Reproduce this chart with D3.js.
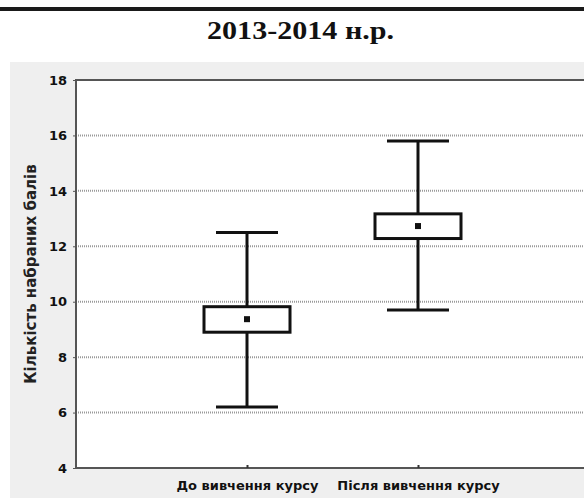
<!DOCTYPE html>
<html>
<head>
<meta charset="utf-8">
<script src="https://cdn.jsdelivr.net/npm/d3@7"></script>
<style>
  body { margin: 0; background: #efefef; overflow: hidden; }
  svg { display: block; }
</style>
</head>
<body>
<script>
// data
const categories = ["До вивчення курсу", "Після вивчення курсу"];
const whiskerLow = [6.2, 9.7];
const boxLow = [8.9, 12.28];
const means = [9.37, 12.73];
const boxHigh = [9.82, 13.17];
const whiskerHigh = [12.5, 15.8];
const yTicks = [4, 6, 8, 10, 12, 14, 16, 18];

const W = 584, H = 498;
const margin = { left: 76, top: 80 };
const plotBottom = 468;
const sans = "DejaVu Sans, Verdana, sans-serif";

const svg = d3.select("body").append("svg")
  .attr("width", W)
  .attr("height", H);

// white page background with top rule
svg.append("rect").attr("width", W).attr("height", H).attr("fill", "#fff");
svg.append("rect").attr("x", 0).attr("y", 7).attr("width", W).attr("height", 4).attr("fill", "#1a1a1a");

// title
svg.append("text")
  .attr("x", 207).attr("y", 39)
  .attr("textLength", 187)
  .attr("lengthAdjust", "spacingAndGlyphs")
  .attr("font-family", "Liberation Serif, serif")
  .attr("font-weight", "bold")
  .attr("font-size", "26px")
  .attr("fill", "#111")
  .text("2013-2014 н.р.");

// grey panel
svg.append("rect").attr("x", 10).attr("y", 62).attr("width", W).attr("height", H - 62).attr("fill", "#efefef");

// scales
const xScale = d3.scaleLinear().domain([0, 3]).range([margin.left, margin.left + 3 * 171]);
const yScale = d3.scaleLinear().domain([4, 18]).range([plotBottom, margin.top]);
const x0 = xScale(0), x1 = W + 10;

// plot area
svg.append("rect")
  .attr("x", x0).attr("y", yScale(18))
  .attr("width", x1 - x0).attr("height", yScale(4) - yScale(18))
  .attr("fill", "#fff");

// grid
svg.append("g").selectAll("line")
  .data(yTicks.filter(d => d > 4 && d < 18))
  .join("line")
  .attr("x1", x0).attr("x2", x1)
  .attr("y1", d => yScale(d)).attr("y2", d => yScale(d))
  .attr("stroke", "#9a9a9a")
  .attr("stroke-width", 2)
  .attr("stroke-dasharray", "1,1");

// frame (top, bottom, left)
const frame = svg.append("g").attr("stroke", "#555").attr("stroke-width", 2);
frame.append("line").attr("x1", x0).attr("x2", x1).attr("y1", yScale(18)).attr("y2", yScale(18));
frame.append("line").attr("x1", x0).attr("x2", x1).attr("y1", yScale(4)).attr("y2", yScale(4));
frame.append("line").attr("x1", x0).attr("x2", x0).attr("y1", yScale(18) - 1).attr("y2", yScale(4) + 1);

// y axis
const yAxis = d3.axisLeft(yScale).tickValues(yTicks).tickSize(3).tickPadding(6);
const gY = svg.append("g").attr("transform", `translate(${x0},0)`).call(yAxis);
gY.select(".domain").remove();
gY.selectAll("line").attr("stroke", "#555");
gY.selectAll("text")
  .attr("font-family", sans)
  .attr("font-weight", "bold")
  .attr("font-size", "13px")
  .attr("fill", "#111");

// x axis
const xAxis = d3.axisBottom(xScale).tickValues([1, 2]).tickFormat(d => categories[d - 1]).tickSize(-3).tickPadding(13);
const gX = svg.append("g").attr("transform", `translate(0,${plotBottom})`).call(xAxis);
gX.select(".domain").remove();
gX.selectAll("line").attr("stroke", "#333").attr("stroke-width", 2);
gX.selectAll("text")
  .attr("font-family", sans)
  .attr("font-weight", "bold")
  .attr("font-size", "13px")
  .attr("fill", "#111");

// y label
svg.append("text")
  .attr("transform", `translate(36,${(yScale(4) + yScale(18)) / 2}) rotate(-90)`)
  .attr("text-anchor", "middle")
  .attr("font-family", sans)
  .attr("font-weight", "bold")
  .attr("font-size", "15px")
  .attr("fill", "#222")
  .text("Кількість набраних балів");

// boxes
const boxW = 86, capW = 62;
const g = svg.append("g").attr("stroke", "#111").attr("stroke-width", 3).attr("fill", "none");
categories.forEach((c, i) => {
  const cx = xScale(i + 1);
  g.append("line").attr("x1", cx).attr("x2", cx).attr("y1", yScale(whiskerHigh[i])).attr("y2", yScale(whiskerLow[i]));
  g.append("line").attr("x1", cx - capW / 2).attr("x2", cx + capW / 2).attr("y1", yScale(whiskerHigh[i])).attr("y2", yScale(whiskerHigh[i]));
  g.append("line").attr("x1", cx - capW / 2).attr("x2", cx + capW / 2).attr("y1", yScale(whiskerLow[i])).attr("y2", yScale(whiskerLow[i]));
  g.append("rect")
    .attr("x", cx - boxW / 2).attr("y", yScale(boxHigh[i]))
    .attr("width", boxW).attr("height", yScale(boxLow[i]) - yScale(boxHigh[i]))
    .attr("fill", "#fff");
  g.append("rect")
    .attr("x", cx - 3).attr("y", yScale(means[i]) - 3)
    .attr("width", 6).attr("height", 6)
    .attr("fill", "#111").attr("stroke", "none");
});
</script>
</body>
</html>
